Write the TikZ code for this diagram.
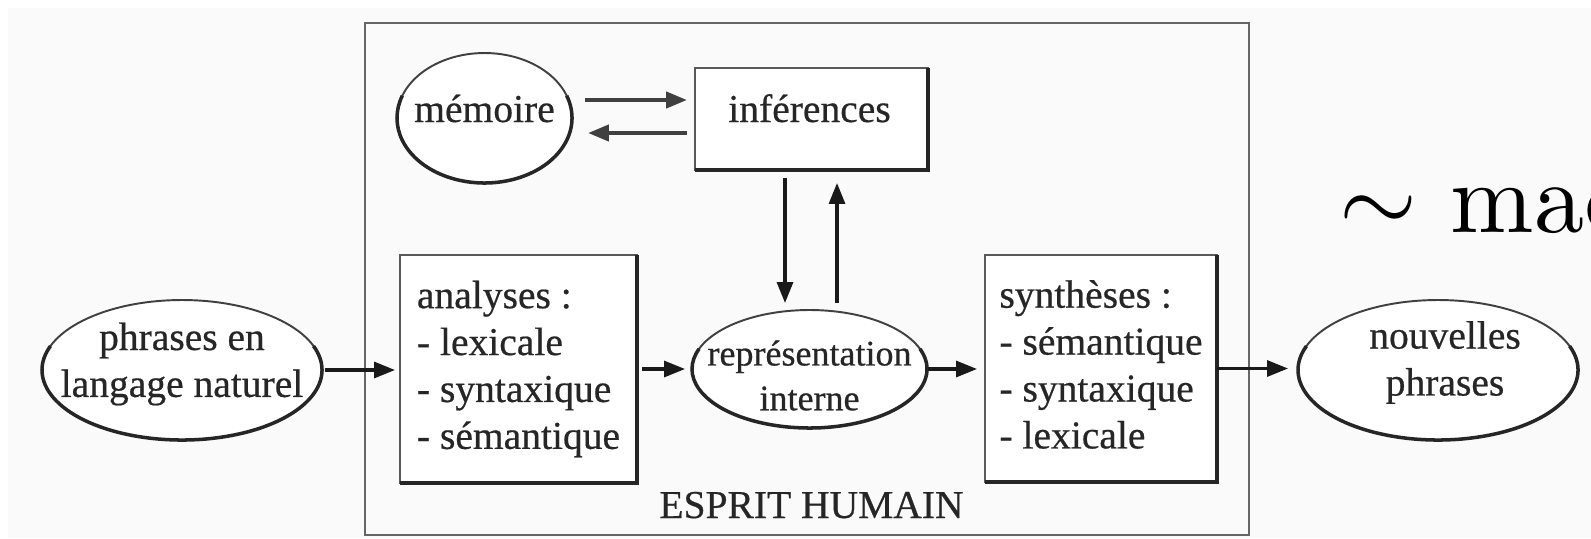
\documentclass[tikz,border=0pt]{standalone}
\usepackage{fontspec}
\newfontfamily\diagfont[FakeBold=0.5]{Liberation Serif}
\usetikzlibrary{arrows.meta,calc,shapes.geometric}

% darker lower/right rim of an ellipse node: name, x radius, y radius
\newcommand\rimarc[3]{%
  \draw[rim] ($(#1.center)+({#2*cos(-20)},{#3*sin(-20)})$)
    arc[start angle=-20,end angle=200,x radius=#2,y radius=#3];}

\begin{document}
\begin{tikzpicture}[x=0.02cm,y=-0.02cm,
  every node/.style={inner sep=0pt,outer sep=0pt},
  txt/.style={font=\diagfont\fontsize{22.5}{26.7}\selectfont,text=black!85,align=center},
  boxtxt/.style={txt,align=left},
  card/.style={rectangle,draw=black!65,line width=1.4pt,fill=white},
  oval/.style={ellipse,draw=black!75,line width=1.1pt,fill=white},
  rim/.style={draw=black!85,line width=2pt},
  arr/.style={draw=black!90,line width=1.8pt,-{Triangle[length=0.42cm,width=0.32cm]}},
  twin/.style={arr,draw=black!75,line width=2.4pt},
]
\useasboundingbox (0,0) rectangle (1591,538);
\clip (0,0) rectangle (1591,538);
\fill[white] (0,0) rectangle (1591,538);
\fill[black!2] (8,8) rectangle (1591,538);

% frame of the mind
\node[draw=black!60,line width=1.6pt,minimum width=17.68cm,minimum height=10.24cm] (mind) at (807,279) {};
\node[txt,anchor=base] (mind-lbl) at (811.5,518) {ESPRIT HUMAIN};

% top row
\node[oval,minimum width=3.5cm,minimum height=2.6cm] (mem) at (484.5,118) {};
\rimarc{mem}{87.5}{65}
\node[txt,anchor=base] (mem-t) at ([shift={(0,4)}]mem.center) {mémoire};

\node[card,minimum width=4.66cm,minimum height=2.04cm] (inf) at (811.5,119) {};
\draw[rim] (inf.north east) -- (inf.south east) -- (inf.south west);
\node[txt,anchor=base] (inf-t) at ([shift={(-2,3)}]inf.center) {inférences};

% main row
\node[oval,minimum width=5.6cm,minimum height=2.8cm] (src) at (182,370) {};
\rimarc{src}{140}{70}
\node[txt] (src-t) at ([shift={(0,-6)}]src.center) {phrases en\\langage naturel};

\node[card,boxtxt,minimum width=4.74cm,minimum height=4.56cm] (ana) at (518.5,369)
  {analyses :\\- lexicale\\- syntaxique\\- sémantique};
\draw[rim] (ana.north east) -- (ana.south east) -- (ana.south west);

\node[oval,minimum width=4.7cm,minimum height=2.36cm] (rep) at (809.5,369) {};
\rimarc{rep}{117.5}{59}
\node[txt,font=\diagfont\fontsize{20.5}{25.5}\selectfont] (rep-t) at ([shift={(0,6.5)}]rep.center)
  {représentation\\interne};

\node[card,boxtxt,minimum width=4.64cm,minimum height=4.54cm] (syn) at (1101,368.5)
  {synthèses :\\- sémantique\\- syntaxique\\- lexicale\vphantom{q}};
\draw[rim] (syn.north east) -- (syn.south east) -- (syn.south west);

\node[oval,minimum width=5.6cm,minimum height=2.8cm] (dst) at (1438,370) {};
\rimarc{dst}{140}{70}
\node[txt] (dst-t) at ([shift={(7,-7.5)}]dst.center) {nouvelles\\phrases};

% connectors
\draw[twin] ([shift={(13,-18)}]mem.east) -- ([shift={(-8,-19)}]inf.west);
\draw[twin] ([shift={(-8,14)}]inf.west) -- ([shift={(16,15)}]mem.east);
\draw[arr] ([shift={(-26.5,8)}]inf.south) -- ([shift={(-24.5,-7)}]rep.north);
\draw[arr] ([shift={(27.5,-7)}]rep.north) -- ([shift={(25.5,13)}]inf.south);
\draw[arr] ([shift={(3,0)}]src.east) -- ($(src.east -| ana.west)+(-5,0)$);
\draw[arr] ([shift={(5,0)}]ana.east) -- ($(ana.east -| rep.west)+(-7,0)$);
\draw[arr] ([shift={(1,0)}]rep.east) -- ($(rep.east -| syn.west)+(-8,0)$);
\draw[arr] (syn.east) -- ($(syn.east -| dst.west)+(-10,0)$);

% side remark
\node[anchor=base west] (mach) at (1339.5,232) {\fontsize{10}{12}\selectfont\scalebox{5.7}{$\sim$ mac}};
\end{tikzpicture}
\end{document}
